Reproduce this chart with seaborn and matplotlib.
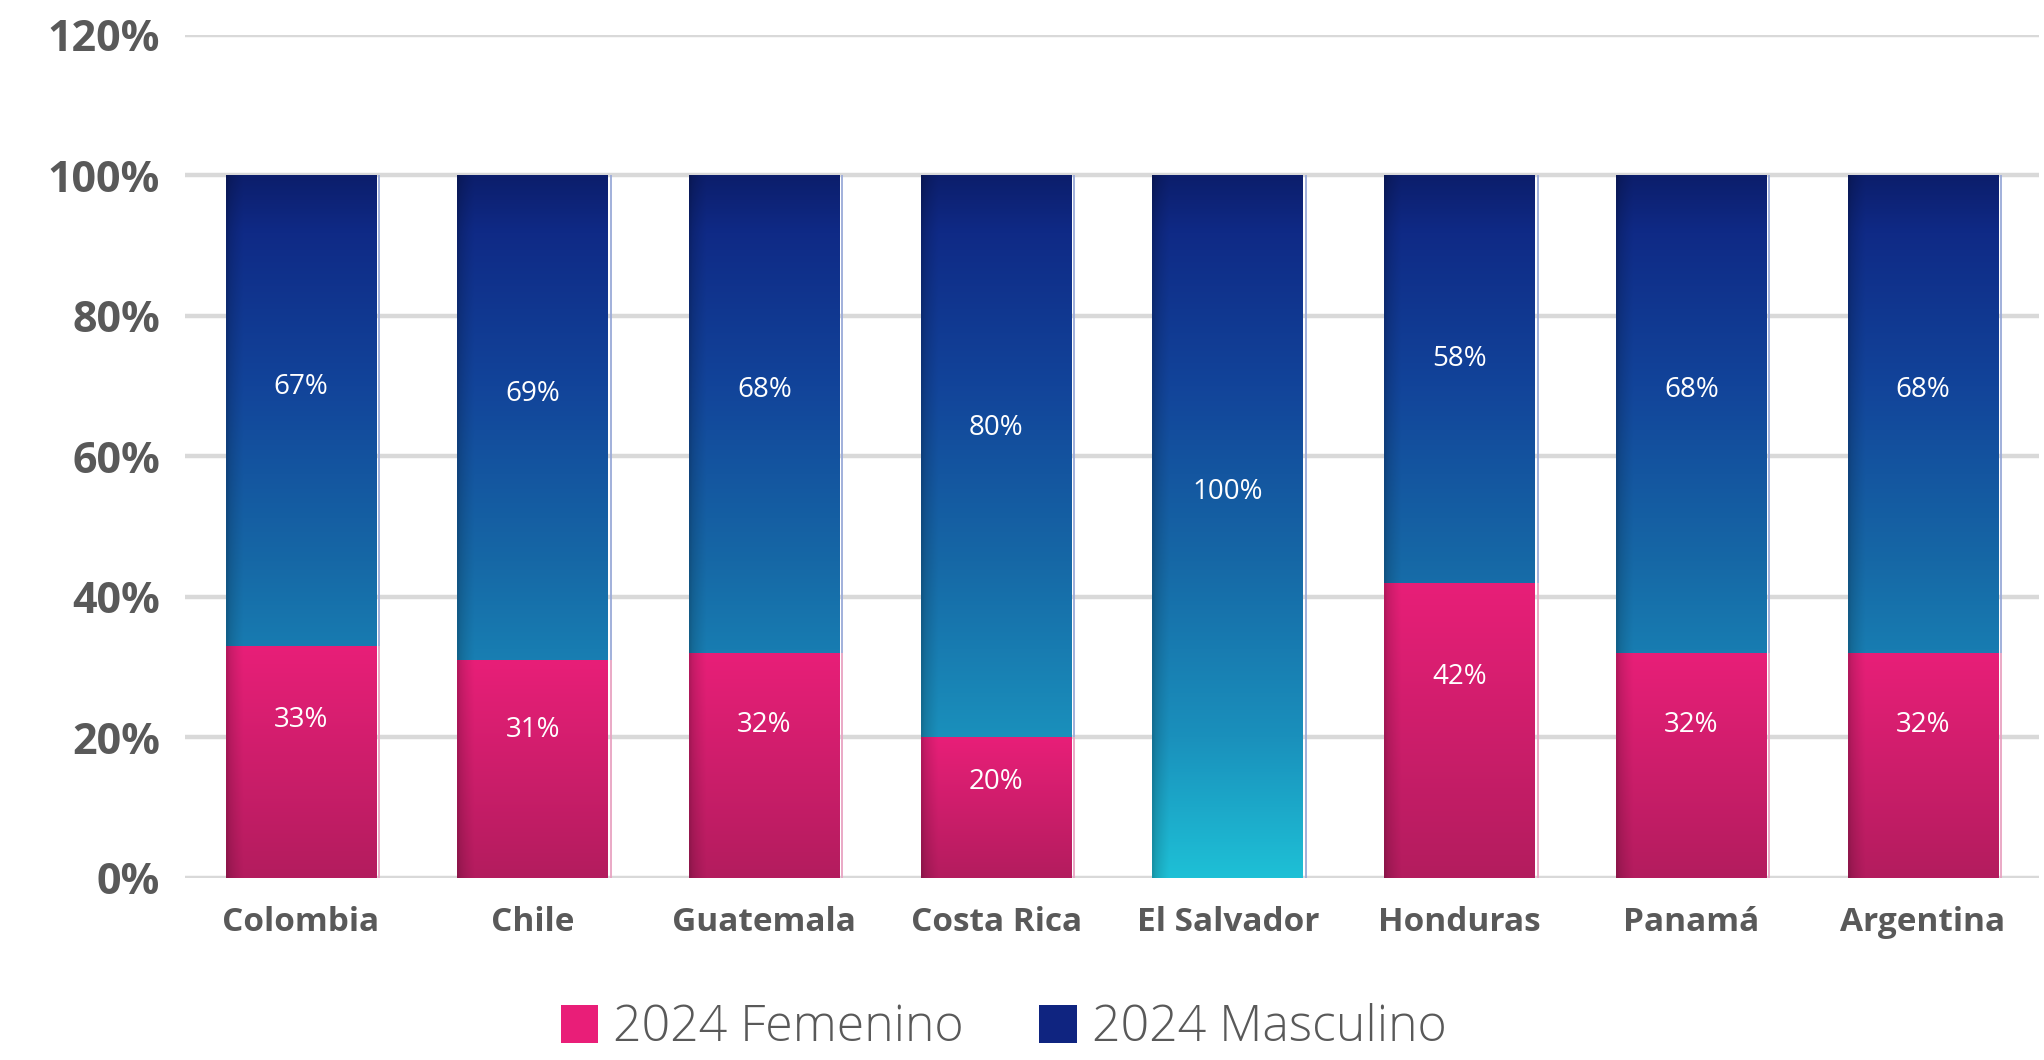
import numpy as np
import pandas as pd
import matplotlib
matplotlib.use("Agg")
import matplotlib.pyplot as plt
from matplotlib.colors import LinearSegmentedColormap
from matplotlib.patches import Patch
import seaborn as sns

countries = ["Colombia", "Chile", "Guatemala", "Costa Rica", "El Salvador",
             "Honduras", "Panamá", "Argentina"]
femenino = [33, 31, 32, 20, 0, 42, 32, 32]
masculino = [67, 69, 68, 80, 100, 58, 68, 68]
y_ticks = [0, 20, 40, 60, 80, 100, 120]
legend_labels = ["2024 Femenino", "2024 Masculino"]

PINK = "#E91E78"
NAVY = "#0F2480"
GREY = "#595959"

blue_cmap = LinearSegmentedColormap.from_list(
    "blue_grad",
    [(0.0, "#1EC0D6"), (0.2, "#1A90BC"), (0.45, "#1668A6"),
     (0.7, "#12449A"), (0.92, "#0F2A86"), (1.0, "#0C1E6C")],
)
pink_cmap = LinearSegmentedColormap.from_list("pink_grad", ["#B31C5E", "#E81F78"])


def gradient_image(cmap, lo=0.0, hi=1.0, rows=256, cols=64):
    v = np.linspace(lo, hi, rows)
    rgb = cmap(v)[:, :3]
    u = np.linspace(0, 1, cols)
    edge = np.clip(u / 0.11, 0, 1)
    shade = 0.78 + 0.22 * edge ** 0.6
    img = rgb[:, None, :] * shade[None, :, None]
    return np.clip(img, 0, 1)


def fill_gradient(ax, patch, img, y0, y1, zorder):
    x0 = patch.get_x()
    x1 = x0 + patch.get_width()
    im = ax.imshow(img, extent=[x0, x1, y0, y1], origin="lower",
                   aspect="auto", zorder=zorder, interpolation="bilinear")
    im.set_clip_path(patch)
    return im


sns.set_theme(style="white")
plt.rcParams["font.family"] = ["Open Sans", "DejaVu Sans"]

df = pd.DataFrame({"country": countries, "fem": femenino, "masc": masculino})
df["total"] = df["fem"] + df["masc"]

fig = plt.figure(figsize=(20.44, 10.60), dpi=100)
ax = fig.add_axes([0.0905, 0.1717, 0.907, 0.7953])

sns.barplot(data=df, x="country", y="total", color=NAVY, width=0.65,
            saturation=1, ax=ax, zorder=2, linewidth=0)
blue_patches = list(ax.patches)
sns.barplot(data=df, x="country", y="fem", color=PINK, width=0.65,
            saturation=1, ax=ax, zorder=4, linewidth=0)
pink_patches = [p for p in ax.patches if p not in blue_patches]

ax.set_ylim(0, 120)
ax.set_xlim(-0.5, len(countries) - 0.5)

blue_img = gradient_image(blue_cmap)
pink_img = gradient_image(pink_cmap)
for bp, pp, (_, row) in zip(blue_patches, pink_patches, df.iterrows()):
    fill_gradient(ax, bp, blue_img, 0, row["total"], 3)
    if row["fem"] > 0:
        fill_gradient(ax, pp, pink_img, 0, row["fem"], 5)
    # thin light edge line to the right of each bar
    xr = bp.get_x() + bp.get_width() + 0.012
    ax.plot([xr, xr], [row["fem"], row["total"]], color="#9AAAD8", lw=1.3,
            zorder=3, solid_capstyle="butt")
    if row["fem"] > 0:
        ax.plot([xr, xr], [0, row["fem"]], color="#E8A3C2", lw=1.3,
                zorder=3, solid_capstyle="butt")

for i, (_, row) in enumerate(df.iterrows()):
    if row["fem"] > 0:
        ax.text(i, row["fem"] * 0.68, f"{row['fem']}%", ha="center", va="center",
                color="white", fontsize=20, zorder=7)
    ax.text(i, row["fem"] + row["masc"] * 0.55, f"{row['masc']}%", ha="center",
            va="center", color="white", fontsize=20, zorder=7)

ax.set_yticks(y_ticks)
ax.set_yticklabels([f"{t}%" for t in y_ticks])
ax.yaxis.grid(True, color="#D9D9D9", linewidth=3.2, zorder=0)
ax.set_axisbelow(True)
ax.tick_params(axis="y", length=0, pad=18, labelsize=31, labelcolor=GREY)
ax.tick_params(axis="x", length=0, pad=20, labelsize=24, labelcolor=GREY)
for lab in ax.get_yticklabels() + ax.get_xticklabels():
    lab.set_fontweight("bold")
ax.set_xlabel("")
ax.set_ylabel("")
sns.despine(ax=ax, left=True, bottom=True)

handles = [Patch(facecolor=PINK, edgecolor="none"),
           Patch(facecolor=NAVY, edgecolor="none")]
leg = fig.legend(handles, legend_labels, loc="center", ncol=2,
                 bbox_to_anchor=(0.491, 0.03), frameon=False, fontsize=36,
                 handlelength=0.75, handleheight=0.78, handletextpad=0.3,
                 columnspacing=1.5, labelcolor=GREY, borderpad=0.2)
for t in leg.get_texts():
    t.set_fontweight("light")

fig.savefig("out.png", dpi=100)
